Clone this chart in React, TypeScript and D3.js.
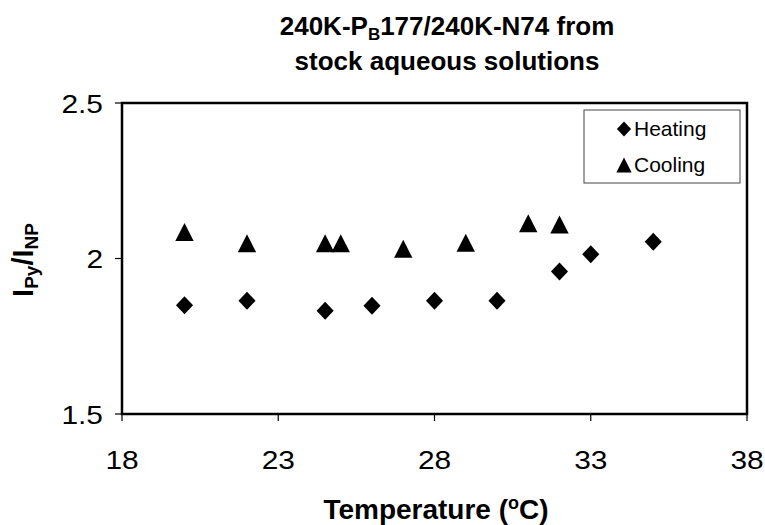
import React from "react";
import * as d3 from "d3";

const heatingT = [20, 22, 24.5, 26, 28, 30, 32, 33, 35];
const heatingV = [1.85, 1.864, 1.832, 1.848, 1.864, 1.864, 1.958, 2.014, 2.054];
const coolingT = [20, 22, 24.5, 25, 27, 29, 31, 32];
const coolingV = [2.085, 2.049, 2.049, 2.049, 2.031, 2.051, 2.113, 2.109];
const xTicks = [18, 23, 28, 33, 38];
const yTicks = [1.5, 2, 2.5];
const yTickLabels = ["1.5", "2", "2.5"];

const W = 765;
const H = 525;
const M = { left: 122, right: 747, top: 103, bottom: 414 };
const FONT = "'Liberation Sans', Arial, sans-serif";
const TICK_FS = 26;
const TICK_SX = 1.15;

const diamond = (x: number, y: number, r: number) =>
  `M${x},${y - r}L${x + r * 0.95},${y}L${x},${y + r}L${x - r * 0.95},${y}Z`;
const triangle = (x: number, y: number, r: number) =>
  `M${x},${y - r}L${x + r * 1.02},${y + r}L${x - r * 1.02},${y + r}Z`;

export default function App() {
  const x = d3.scaleLinear().domain([18, 38]).range([M.left, M.right]);
  const y = d3.scaleLinear().domain([1.5, 2.5]).range([M.bottom, M.top]);
  const heating = heatingT.map((t, i) => ({ t, v: heatingV[i] }));
  const cooling = coolingT.map((t, i) => ({ t, v: coolingV[i] }));

  return (
    <svg
      width={W}
      height={H}
      style={{ position: "absolute", left: 0, top: 0, background: "#fff" }}
      fontFamily={FONT}
    >
      <rect x={0} y={0} width={W} height={H} fill="#fff" />
      {/* Title */}
      <text x={447} y={35} textAnchor="middle" fontSize={26} fontWeight="bold" fill="#000">
        240K-P
        <tspan fontSize={17} dy={5}>B</tspan>
        <tspan dy={-5}>177/240K-N74 from</tspan>
      </text>
      <text x={447} y={70} textAnchor="middle" fontSize={26} fontWeight="bold" fill="#000">
        stock aqueous solutions
      </text>

      {/* Ticks */}
      {xTicks.map((t) => (
        <g key={"xt" + t}>
          <line x1={x(t)} x2={x(t)} y1={M.bottom} y2={M.bottom + 7} stroke="#000" strokeWidth={1.2} />
          <g transform={`translate(${x(t)},469) scale(${TICK_SX},1)`}>
            <text x={0} y={0} textAnchor="middle" fontSize={TICK_FS} fill="#000">
              {t}
            </text>
          </g>
        </g>
      ))}
      {yTicks.map((t, i) => (
        <g key={"yt" + t}>
          <line x1={M.left - 7} x2={M.left} y1={y(t)} y2={y(t)} stroke="#000" strokeWidth={1.2} />
          <g transform={`translate(103,${y(t) + 9.5}) scale(${TICK_SX},1)`}>
            <text x={0} y={0} textAnchor="end" fontSize={TICK_FS} fill="#000">
              {yTickLabels[i]}
            </text>
          </g>
        </g>
      ))}

      {/* Plot frame */}
      <rect
        x={M.left}
        y={M.top}
        width={M.right - M.left}
        height={M.bottom - M.top}
        fill="none"
        stroke="#000"
        strokeWidth={2.5}
      />

      {/* Data */}
      {heating.map((d, i) => (
        <path key={"h" + i} d={diamond(x(d.t), y(d.v), 9)} fill="#000" />
      ))}
      {cooling.map((d, i) => (
        <path key={"c" + i} d={triangle(x(d.t), y(d.v), 9)} fill="#000" />
      ))}

      {/* Legend */}
      <rect x={584} y={110} width={156} height={73} fill="#fff" stroke="#444" strokeWidth={1} />
      <path d={diamond(624, 129, 7.5)} fill="#000" />
      <text x={634} y={136} fontSize={21} fill="#000">Heating</text>
      <path d={triangle(624, 165, 7.5)} fill="#000" />
      <text x={634} y={172} fontSize={21} fill="#000">Cooling</text>

      {/* Axis titles */}
      <text x={436} y={519} textAnchor="middle" fontSize={28} fontWeight="bold" fill="#000">
        Temperature (
        <tspan fontSize={18} dy={-10}>o</tspan>
        <tspan dy={10}>C)</tspan>
      </text>
      <text
        transform={`translate(33,260) rotate(-90)`}
        textAnchor="middle"
        fontSize={29}
        fontWeight="bold"
        fill="#000"
      >
        I
        <tspan fontSize={19} dy={5}>Py</tspan>
        <tspan dy={-5}>/I</tspan>
        <tspan fontSize={19} dy={5}>NP</tspan>
      </text>
    </svg>
  );
}
